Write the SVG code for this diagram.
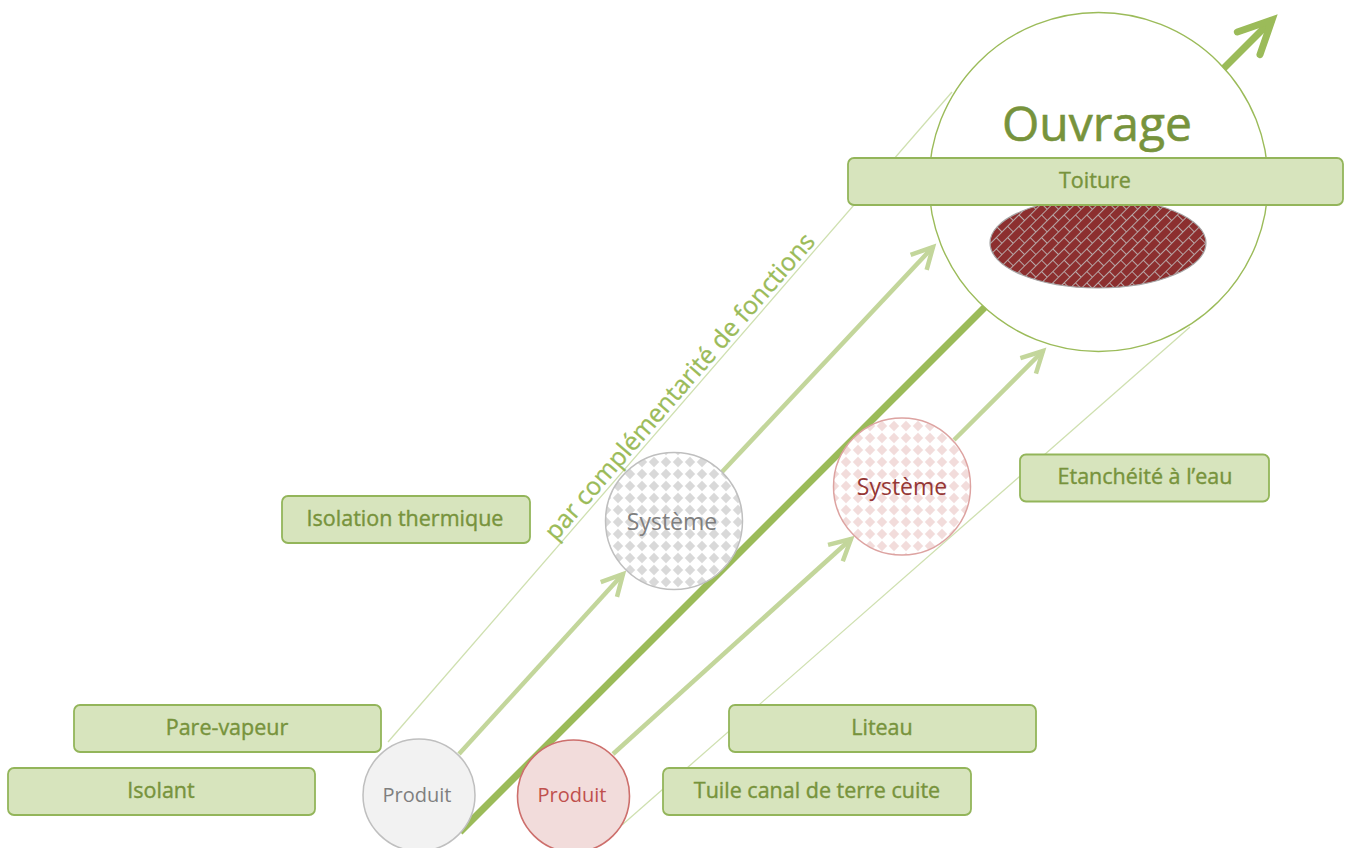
<svg xmlns="http://www.w3.org/2000/svg" width="1351" height="848" viewBox="0 0 1351 848">
  <defs>
    <style>
      .box { fill: #D7E4BD; stroke: #93B55A; stroke-width: 1.8; }
      .boxtxt { font-family: "Open Sans", "Liberation Sans", sans-serif; font-size: 21.5px; fill: #77933C; stroke: #77933C; stroke-width: 0.4; text-anchor: middle; }
      .thin { stroke: #CFE0B0; stroke-width: 1.3; fill: none; }
      .mid { stroke: #C3D69B; stroke-width: 4.5; fill: none; }
      .thick { stroke: #9BBB59; stroke-width: 7; fill: none; }
      .circtxt { font-family: "Open Sans", "Liberation Sans", sans-serif; text-anchor: middle; }
    </style>
    <!-- diamond checker fills for the system circles -->
    <pattern id="checkGrey" width="12" height="12" patternUnits="userSpaceOnUse">
      <rect width="12" height="12" fill="#FFFFFF"/>
      <path d="M6 0.8 L11.2 6 L6 11.2 L0.8 6 Z" fill="#D9D9D9"/>
    </pattern>
    <pattern id="checkPink" width="12" height="12" patternUnits="userSpaceOnUse">
      <rect width="12" height="12" fill="#FFFFFF"/>
      <path d="M6 0.8 L11.2 6 L6 11.2 L0.8 6 Z" fill="#F2DCDB"/>
    </pattern>
    <!-- diagonal brick texture for the roof tiles -->
    <pattern id="brick" width="16" height="16" patternUnits="userSpaceOnUse" patternTransform="rotate(-45)">
      <rect width="16" height="16" fill="#8C2F2F"/>
      <path d="M0 0.5 H16 M0 8.5 H16 M0.5 0 V8 M8.5 8 V16" stroke="#B7A7A7" stroke-width="1"/>
    </pattern>
    <marker id="headMid" viewBox="-30 -20 40 40" markerWidth="40" markerHeight="40" refX="0" refY="0" orient="auto" markerUnits="userSpaceOnUse">
      <path d="M-21 -11 L0 0 L-21 11" fill="none" stroke="#C3D69B" stroke-width="4.5" stroke-linejoin="miter"/>
    </marker>
    <marker id="headThick" viewBox="-45 -30 55 60" markerWidth="55" markerHeight="60" refX="0" refY="0" orient="auto" markerUnits="userSpaceOnUse">
      <path d="M-33 -16 L0 0 L-33 16" fill="none" stroke="#9BBB59" stroke-width="7" stroke-linecap="round" stroke-linejoin="miter"/>
    </marker>
  </defs>

  <rect width="1351" height="848" fill="#FFFFFF"/>

  <!-- connectors -->
  <g id="connectors">
    <line class="thin" x1="388" y1="742" x2="952" y2="92"/>
    <line class="thin" x1="622" y1="825" x2="1190" y2="327"/>
    <line class="thick" x1="460" y1="832" x2="1272" y2="20" marker-end="url(#headThick)"/>
    <line class="mid" x1="459" y1="754" x2="623" y2="574" marker-end="url(#headMid)"/>
    <line class="mid" x1="721" y1="473" x2="933" y2="247" marker-end="url(#headMid)"/>
    <line class="mid" x1="613" y1="754" x2="851" y2="539" marker-end="url(#headMid)"/>
    <line class="mid" x1="954" y1="440" x2="1043" y2="351" marker-end="url(#headMid)"/>
    <text font-family="Open Sans, Liberation Sans, sans-serif" font-size="25" fill="#9BBB59" stroke="#9BBB59" stroke-width="0.3" text-anchor="middle" transform="translate(686,392) rotate(-49)">par complémentarité de fonctions</text>
  </g>

  <!-- work: roof -->
  <g id="ouvrage">
    <circle cx="1098.5" cy="182" r="169.5" fill="#FFFFFF" stroke="#9BBB59" stroke-width="1.4"/>
    <text class="circtxt" x="1097" y="141" font-size="48" fill="#77933C" stroke="#77933C" stroke-width="0.6">Ouvrage</text>
    <ellipse cx="1098" cy="243" rx="108" ry="45" fill="url(#brick)" stroke="#A6A6A6" stroke-width="1.2"/>
  </g>
  <g id="toiture">
    <rect class="box" x="848" y="158" width="495" height="47" rx="6"/>
    <text class="boxtxt" x="1095" y="188">Toiture</text>
  </g>

  <!-- systems -->
  <g id="systeme-isolation">
    <circle cx="674" cy="521" r="68.5" fill="url(#checkGrey)" stroke="#BFBFBF" stroke-width="1.5"/>
    <text class="circtxt" x="672" y="530" font-size="23" fill="#7F7F7F">Système</text>
  </g>
  <g id="systeme-etancheite">
    <circle cx="902" cy="486.5" r="68.5" fill="url(#checkPink)" stroke="#DDA3A1" stroke-width="1.5"/>
    <text class="circtxt" x="902" y="495" font-size="23" fill="#953735">Système</text>
  </g>

  <!-- products -->
  <g id="produit-isolant">
    <circle cx="419" cy="795" r="56" fill="#F2F2F2" stroke="#BFBFBF" stroke-width="1.5"/>
    <text class="circtxt" x="417" y="802" font-size="20" fill="#7F7F7F">Produit</text>
  </g>
  <g id="produit-tuile">
    <circle cx="573.5" cy="796" r="56" fill="#F2DCDB" stroke="#CD6F6C" stroke-width="1.6"/>
    <text class="circtxt" x="572" y="802" font-size="20" fill="#C0504D">Produit</text>
  </g>

  <!-- labels -->
  <g id="isolation-thermique">
    <rect class="box" x="282" y="496" width="248" height="47" rx="6"/>
    <text class="boxtxt" x="405" y="526">Isolation thermique</text>
  </g>
  <g id="etancheite">
    <rect class="box" x="1020" y="454.5" width="249" height="47" rx="6"/>
    <text class="boxtxt" x="1145" y="484">Etanchéité à l’eau</text>
  </g>
  <g id="pare-vapeur">
    <rect class="box" x="74" y="705" width="307" height="47" rx="6"/>
    <text class="boxtxt" x="227" y="735">Pare-vapeur</text>
  </g>
  <g id="isolant">
    <rect class="box" x="8" y="768" width="307" height="47" rx="6"/>
    <text class="boxtxt" x="161" y="798">Isolant</text>
  </g>
  <g id="liteau">
    <rect class="box" x="729" y="705" width="307" height="47" rx="6"/>
    <text class="boxtxt" x="882" y="735">Liteau</text>
  </g>
  <g id="tuile">
    <rect class="box" x="663" y="768" width="308" height="47" rx="6"/>
    <text class="boxtxt" x="817" y="798">Tuile canal de terre cuite</text>
  </g>
</svg>
